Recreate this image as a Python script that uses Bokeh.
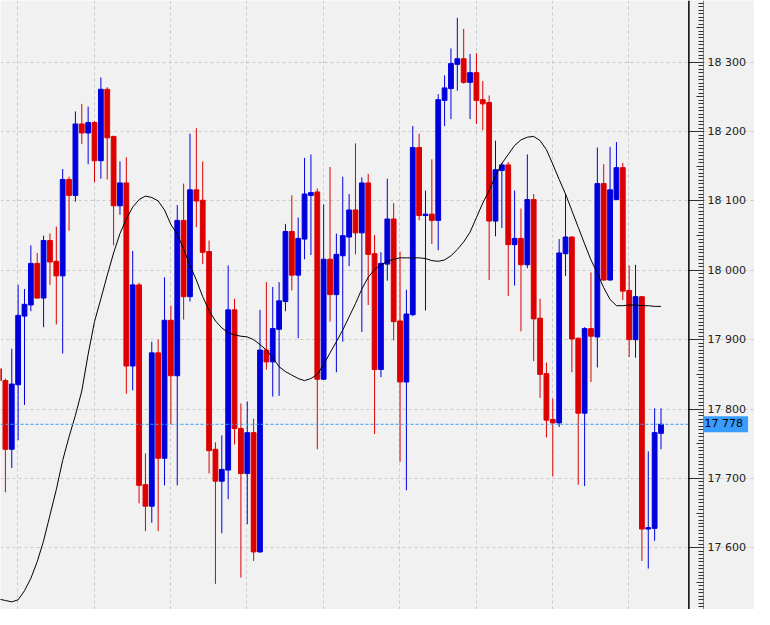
from bokeh.plotting import figure
from bokeh.models import ColumnDataSource, Range1d, FixedTicker, Grid, Span, Label, LinearAxis
from bokeh.embed import file_html
from bokeh.resources import INLINE

# bar index (first bar is only partly visible at the left edge)
idx = list(range(-1, 104))

opens = [17858, 17841, 17742, 17835, 17934, 17950, 18010, 17960, 18043, 18013,
         17992, 18131, 18108, 18211, 18198, 18213, 18158, 18261, 18193, 18093,
         18126, 17862, 17979, 17691, 17660, 17881, 17729, 17928, 17848, 18072,
         17962, 18116, 18101, 18027, 17742, 17696, 17712, 17943, 17772, 17707,
         17766, 17594, 17885, 17868, 17915, 17955, 18056, 17993, 18045, 18108,
         18113, 17843, 18016, 17965, 18021, 18048, 18087, 18054, 18126, 18024,
         17857, 18009, 18074, 17927, 17839, 17936, 18177, 18079, 18081, 18072,
         18245, 18262, 18297, 18305, 18271, 18285, 18246, 18242, 18071, 18144,
         18152, 18037, 18046, 18008, 18102, 17931, 17851, 17785, 17780, 18024,
         18048, 17902, 17794, 17916, 17904, 18125, 17986, 18102, 18148, 17971,
         17900, 17962, 17627, 17628, 17765]

highs = [17861, 17844, 17887, 17979, 17973, 18036, 18025, 18050, 18053, 18063,
         18146, 18135, 18229, 18240, 18236, 18215, 18278, 18264, 18194, 18157,
         18163, 18028, 17982, 17736, 17897, 17900, 17990, 17949, 18094, 18125,
         18197, 18205, 18157, 18043, 17752, 17762, 18007, 17959, 17808, 17811,
         17786, 17943, 17983, 17976, 17983, 18067, 18108, 18076, 18162, 18167,
         18118, 18095, 18149, 18053, 18135, 18110, 18183, 18134, 18139, 18051,
         18026, 18132, 18097, 18027, 17972, 18208, 18197, 18115, 18160, 18254,
         18281, 18320, 18364, 18348, 18312, 18313, 18273, 18252, 18187, 18155,
         18156, 18115, 18089, 18167, 18110, 17959, 17867, 17815, 18045, 18110,
         18049, 17903, 17918, 17997, 18177, 18153, 18178, 18185, 18155, 18007,
         18008, 17963, 17739, 17801, 17801]

lows = [17838, 17680, 17715, 17755, 17806, 17941, 17959, 17918, 17979, 17922,
        17880, 18057, 18099, 18182, 18153, 18127, 18132, 18131, 18036, 18080,
        17822, 17827, 17664, 17624, 17636, 17624, 17690, 17778, 17690, 17929,
        17955, 18062, 18009, 17707, 17548, 17621, 17670, 17749, 17557, 17634,
        17581, 17593, 17857, 17818, 17819, 17941, 17971, 17902, 18016, 18022,
        17742, 17842, 17926, 17853, 17897, 18006, 18023, 17911, 17950, 17764,
        17846, 17985, 17899, 17724, 17683, 17934, 18072, 17942, 18038, 18029,
        18208, 18218, 18259, 18269, 18218, 18211, 18202, 17986, 18049, 18061,
        17963, 17978, 17912, 18003, 17869, 17816, 17759, 17703, 17774, 17992,
        17853, 17691, 17689, 17839, 17860, 17985, 17985, 18101, 17957, 17875,
        17874, 17581, 17570, 17610, 17742]

closes = [17841, 17742, 17836, 17935, 17951, 18010, 17960, 18043, 18012, 17992,
          18131, 18108, 18211, 18198, 18213, 18158, 18261, 18191, 18093, 18126,
          17862, 17979, 17690, 17660, 17881, 17729, 17928, 17848, 18072, 17962,
          18116, 18100, 18026, 17740, 17696, 17713, 17943, 17772, 17707, 17766,
          17594, 17885, 17868, 17916, 17956, 18056, 17993, 18046, 18110, 18112,
          17843, 18016, 17965, 18023, 18050, 18087, 18054, 18126, 18023, 17857,
          18010, 18074, 17926, 17839, 17937, 18177, 18079, 18081, 18072, 18246,
          18263, 18298, 18305, 18271, 18285, 18245, 18240, 18071, 18145, 18152,
          18037, 18046, 18008, 18102, 17930, 17850, 17784, 17780, 18025, 18048,
          17901, 17794, 17916, 17905, 18125, 17986, 18116, 18148, 17970, 17900,
          17962, 17627, 17629, 17766, 17778]

# moving average line
ma = [17526, 17524, 17522, 17525, 17538, 17556, 17580, 17610, 17647, 17684,
      17726, 17760, 17791, 17826, 17879, 17926, 17959, 17993, 18025, 18053,
      18074, 18091, 18102, 18107, 18105, 18100, 18087, 18066, 18052, 18031,
      18007, 17986, 17962, 17942, 17927, 17917, 17910, 17907, 17905, 17904,
      17900, 17893, 17885, 17874, 17861, 17854, 17849, 17844, 17841, 17844,
      17850, 17864, 17881, 17897, 17914, 17933, 17952, 17973, 17990, 18001,
      18008, 18013, 18016, 18018, 18018, 18018, 18018, 18017, 18014, 18013,
      18015, 18021, 18030, 18041, 18055, 18076, 18097, 18115, 18136, 18154,
      18167, 18180, 18188, 18192, 18193, 18187, 18174, 18153, 18131, 18110,
      18086, 18062, 18038, 18015, 17996, 17975, 17958, 17949, 17949, 17950,
      17950, 17949, 17949, 17948, 17948]

y_ticks = list(range(17600, 18400, 100))
y_mid = list(range(17550, 18400, 100))
y_minor = list(range(17515, 18390, 5))

UP = "#0000dd"
DOWN = "#dd0000"
BG = "#f1f1f1"

# x positions (in bar units) of the chart edge and of the price scale
x_left, x_right = -0.77, 117.69
x_border = 107.38
x_scale = 109.69

colors = [UP if c >= o else DOWN for o, c in zip(opens, closes)]
source = ColumnDataSource(data=dict(
    x=idx, high=highs, low=lows,
    top=[max(o, c) for o, c in zip(opens, closes)],
    bottom=[min(o, c) for o, c in zip(opens, closes)],
    color=colors))

p = figure(width=754, height=609, output_backend="svg", toolbar_location=None,
           x_range=Range1d(x_left, x_right), y_range=Range1d(17511, 18389),
           x_axis_location=None, y_axis_location="right", min_border=0,
           background_fill_color=BG, border_fill_color=BG, outline_line_color=None)

# grid, kept left of the chart border
p.xgrid.visible = False
p.ygrid.grid_line_color = "#c9c9c9"
p.ygrid.grid_line_dash = "3 3"
p.ygrid.bounds = (x_left, x_border)
vgrid = Grid(dimension=0, ticker=FixedTicker(ticks=[1.95 + 12 * k for k in range(9)]),
             grid_line_color="#c9c9c9", grid_line_dash="3 3")
p.add_layout(vgrid)

# price scale, ticks pointing inwards
ax = p.yaxis[0]
ax.fixed_location = x_scale
ax.ticker = FixedTicker(ticks=y_ticks, minor_ticks=y_minor)
ax.major_label_overrides = {t: f"{t:,}".replace(",", " ") for t in y_ticks}
ax.axis_line_color = "#808080"
ax.major_tick_in = 15
ax.major_tick_out = 0
ax.minor_tick_in = 5
ax.minor_tick_out = 0
ax.major_tick_line_color = "#303030"
ax.minor_tick_line_color = "#303030"
ax.major_label_standoff = 4
ax.major_label_text_font = "DejaVu Sans"
ax.major_label_text_font_size = "11px"
ax.major_label_text_color = "#1e1e1e"

# half-way ticks
ax_mid = LinearAxis(fixed_location=x_scale, ticker=FixedTicker(ticks=y_mid, minor_ticks=[]),
                    axis_line_color=None, major_tick_in=7, major_tick_out=0,
                    major_tick_line_color="#303030", minor_tick_in=0, minor_tick_out=0,
                    major_label_text_alpha=0, major_label_text_font_size="1px")
p.add_layout(ax_mid, "right")

# candles
p.segment(x0="x", y0="low", x1="x", y1="high", line_color="color", line_width=1, source=source)
p.vbar(x="x", width=0.75, top="top", bottom="bottom", fill_color="color",
       line_color="color", line_width=1, source=source)

# moving average
p.line(idx, ma, line_color="black", line_width=1)

# last price line
p.segment(x0=[x_left], y0=[closes[-1]], x1=[x_border], y1=[closes[-1]],
          line_color="#3d9bf0", line_dash="3 2", line_width=1)

# chart border
p.add_layout(Span(location=x_border, dimension="height", line_color="black", line_width=1.5))

# last price tag on the scale
p.add_layout(Label(x=x_scale, y=closes[-1],
                   text=f"{closes[-1]:,}".replace(",", " "),
                   text_font="DejaVu Sans", text_font_size="11px", text_color="#000000",
                   text_align="left", text_baseline="middle",
                   background_fill_color="#3b9cff", padding=(1, 5, 1, 2)))

open("out.html", "w").write(file_html(p, INLINE))
